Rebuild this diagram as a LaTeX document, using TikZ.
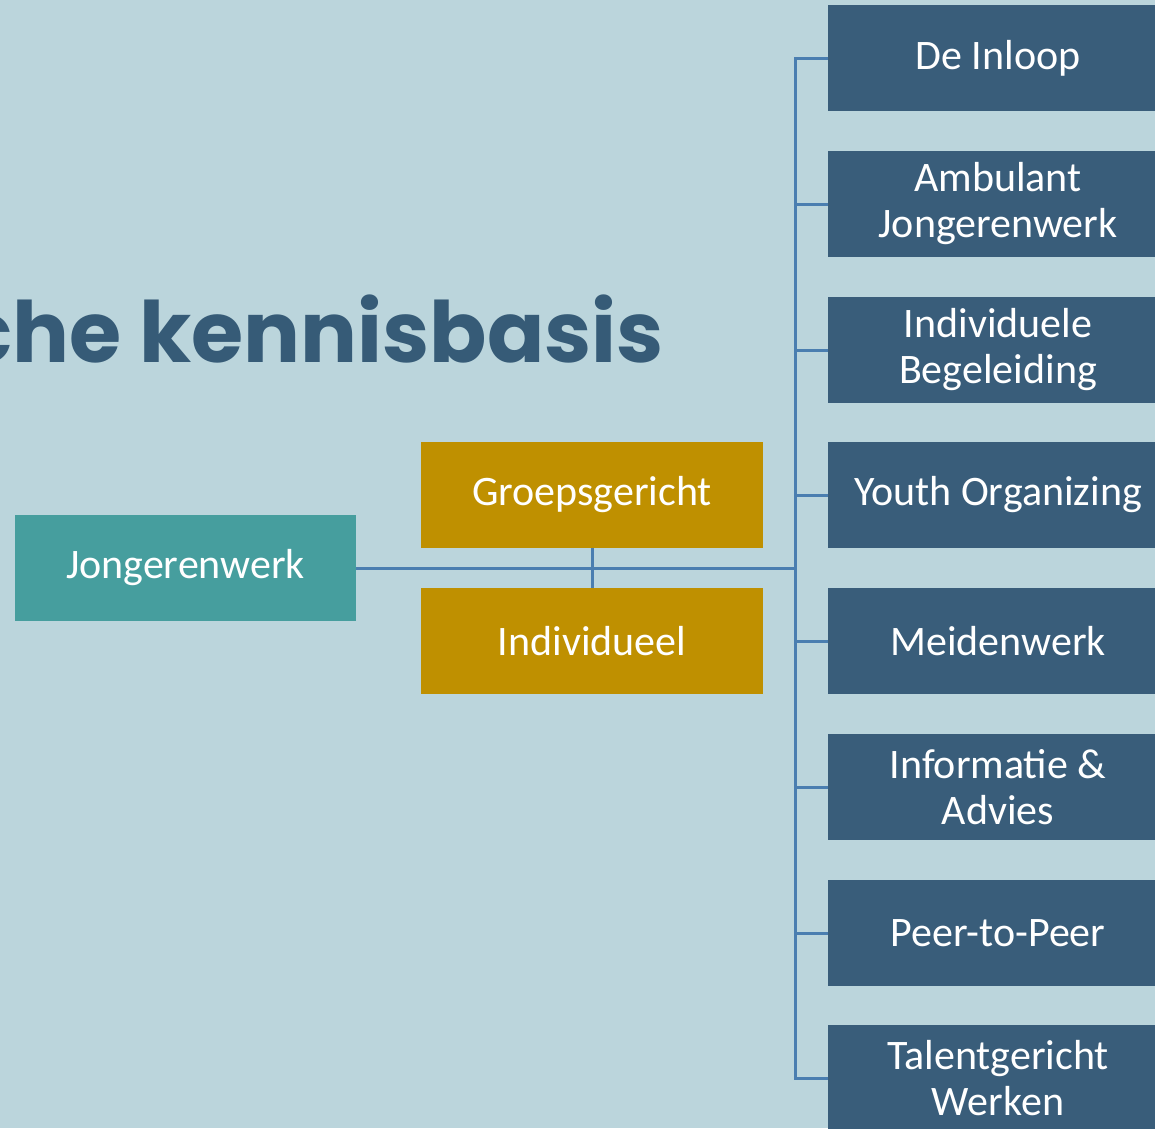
\documentclass[tikz,border=0pt]{standalone}
\usepackage{fontspec}
\setmainfont{Carlito}
\newfontfamily\titlefont{Poppins}
\definecolor{bgc}{HTML}{BBD5DC}
\definecolor{darkb}{HTML}{395D7A}
\definecolor{titlec}{HTML}{365B77}
\definecolor{tealc}{HTML}{469E9E}
\definecolor{goldc}{HTML}{BF9000}
\definecolor{linec}{HTML}{4A7EB0}
\tikzset{
  boxbase/.style={rectangle, inner sep=0pt, text=white, align=center,
    font=\fontsize{42}{46}\selectfont, minimum height=106pt},
  leftbox/.style={boxbase, fill=tealc, minimum width=341pt},
  midbox/.style={boxbase, fill=goldc, minimum width=342pt},
  rightbox/.style={boxbase, fill=darkb, minimum width=340pt},
  conn/.style={draw=linec, line width=3pt}
}
\begin{document}
\begin{tikzpicture}[x=1pt,y=-1pt]
\useasboundingbox (0,0) rectangle (1155,1128);
\clip (0,0) rectangle (1155,1128);
\fill[bgc] (0,0) rectangle (1155,1128);

\node[anchor=base east, inner sep=0pt, text=titlec,
  font=\titlefont\bfseries\fontsize{84.5}{90}\selectfont] (title) at (664,362) {che kennisbasis};

\node[leftbox] (jw) at (185.5,568) {Jongerenwerk};
\node[midbox] (grp) at (592,495) {Groepsgericht};
\node[midbox] (ind) at (592,641) {Individueel};

\node[rightbox] (r1) at (998,58) {De Inloop};
\node[rightbox] (r2) at (998,204) {Ambulant\\Jongerenwerk};
\node[rightbox] (r3) at (998,350) {Individuele\\Begeleiding};
\node[rightbox] (r4) at (998,495) {Youth Organizing};
\node[rightbox] (r5) at (998,641) {Meidenwerk};
\node[rightbox] (r6) at (998,787) {Informatie \&\\Advies};
\node[rightbox] (r7) at (998,933) {Peer-to-Peer};
\node[rightbox] (r8) at (998,1078) {Talentgericht\\Werken};

\coordinate (trunk) at (795,568);

\path[conn] (grp.south) -- (ind.north);
\path[conn] (jw.east) -- (trunk);
\path[conn] (r1.west) -- (r1.west -| trunk) -- (r8.west -| trunk) -- (r8.west);
\foreach \i in {2,...,7} {
  \path[conn] (r\i.west) -- (r\i.west -| trunk);
}
\end{tikzpicture}
\end{document}
